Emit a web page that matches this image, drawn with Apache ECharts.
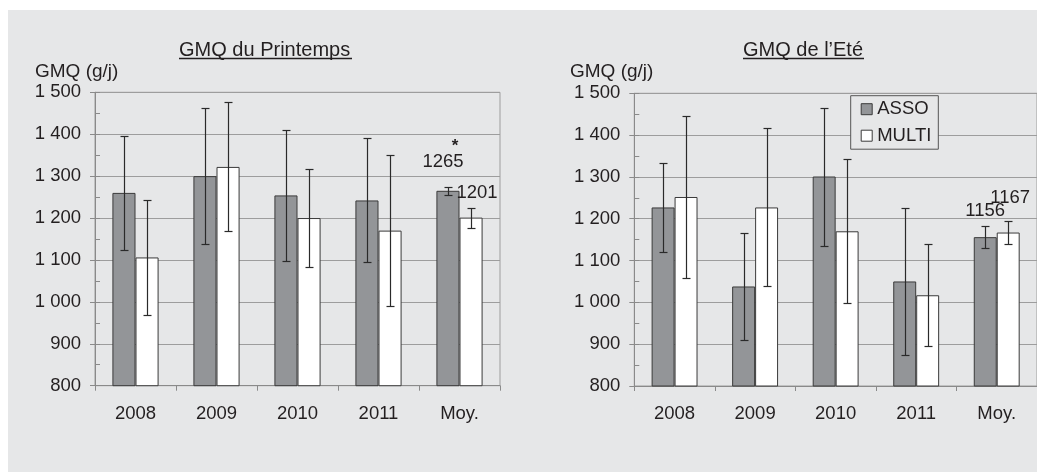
<!DOCTYPE html>
<html><head><meta charset="utf-8">
<script src="https://cdn.jsdelivr.net/npm/echarts@6/dist/echarts.min.js"></script>
<style>html,body{margin:0;padding:0;background:#fff}#c{width:1037px;height:473px}</style>
</head><body><div id="c"></div>
<script>
// ---------- data ----------
const categories = ['2008', '2009', '2010', '2011', 'Moy.'];
const seriesNames = ['ASSO', 'MULTI'];
const springAsso = [1260, 1300, 1254, 1242, 1265];
const springAssoSD = [136, 163, 156, 148, 10];
const springMulti = [1106, 1322, 1200, 1170, 1201];
const springMultiSD = [137, 154, 116, 180, 24];
const summerAsso = [1227, 1038, 1301, 1050, 1156];
const summerAssoSD = [106, 129, 165, 176, 27];
const summerMulti = [1252, 1227, 1170, 1017, 1167];
const summerMultiSD = [193, 189, 172, 122, 27];
const springMarks = ['*', ''];   // significance marker on Moy. (ASSO, MULTI)
const summerMarks = ['', ''];
const yMin = 800, yMax = 1500, yStep = 100, yMinorStep = 50;
const titles = ['GMQ du Printemps', 'GMQ de l\u2019Eté'];
const yName = 'GMQ (g/j)';
const labelledIndex = 4; // only "Moy." bars carry a value label

// ---------- style ----------
const FONT = 'Liberation Sans, Arial, sans-serif';
const TXT = '#231f20';
const BG = '#e6e7e8';
const AX = '#8a8a8a';
const GRIDC = '#9d9d9d';
const ASSO_FILL = '#939598';
const MULTI_FILL = '#ffffff';
const EDGE = '#3a3a3a';
const ERR = '#2a2a2a';
const BAR_FRAC = 0.285;

const fmtY = v => v >= 1000 ? Math.floor(v / 1000) + ' ' + String(v % 1000).padStart(3, '0') : String(v);

const chart = echarts.init(document.getElementById('c'), null, {renderer: 'canvas'});

const grids = [
  {left: 95, top: 92.3, width: 405, height: 293.4},
  {left: 634.3, top: 93.3, width: 403.5, height: 292.7}
];

function xAxisFor(gi) {
  return {
    type: 'category', gridIndex: gi, data: categories,
    axisLine: {lineStyle: {color: AX, width: 1}},
    axisTick: {show: true, length: 5, lineStyle: {color: AX}},
    axisLabel: {color: TXT, fontSize: 18.5, fontFamily: FONT, margin: 18.5}
  };
}
function yAxisMain(gi) {
  return {
    type: 'value', gridIndex: gi, min: yMin, max: yMax, interval: yStep,
    axisLine: {show: true, lineStyle: {color: AX}},
    axisTick: {show: true, length: 5, lineStyle: {color: AX}},
    axisLabel: {color: TXT, fontSize: 18.5, fontFamily: FONT, margin: 14, formatter: fmtY},
    splitLine: {show: true, lineStyle: {color: GRIDC, width: 1}}
  };
}
function yAxisMinor(gi) {
  return {
    type: 'value', gridIndex: gi, min: yMin, max: yMax, interval: yMinorStep,
    position: 'left',
    axisLine: {show: false},
    axisTick: {show: true, inside: true, length: 5, lineStyle: {color: AX}},
    axisLabel: {show: false},
    splitLine: {show: false}
  };
}

function barSeries(name, gi, values, fill, labelOffset, mark) {
  return {
    name: name, type: 'bar', xAxisIndex: gi, yAxisIndex: gi * 2,
    barWidth: (BAR_FRAC * 100) + '%', barGap: '0%',
    itemStyle: {color: fill, borderColor: EDGE, borderWidth: 1},
    data: values.map((v, i) => i === labelledIndex ? {
      value: v,
      label: {
        show: true, position: 'top', distance: 5, offset: labelOffset,
        fontFamily: FONT, color: TXT,
        formatter: p => (mark ? '{m|' + mark + '}\n' : '') + '{v|' + p.value + '}',
        rich: {
          m: {fontSize: 17, lineHeight: 10, color: TXT, fontFamily: FONT, fontWeight: 'bold', padding: [0, 0, 0, 24]},
          v: {fontSize: 18.5, lineHeight: 20, color: TXT, fontFamily: FONT}
        }
      }
    } : v),
    z: 2
  };
}

function errSeries(gi, values, sds, side) {
  return {
    type: 'custom', xAxisIndex: gi, yAxisIndex: gi * 2, z: 5, silent: true,
    data: values.map((v, i) => [i, v, sds[i]]),
    encode: {x: 0, y: 1},
    renderItem: function (params, api) {
      const ci = api.value(0), v = api.value(1), sd = api.value(2);
      const catW = api.size([1, 0])[0];
      let x = api.coord([ci, v])[0] + side * catW * BAR_FRAC / 2;
      x = Math.round(x) + 0.5;
      const yT = Math.round(api.coord([ci, v + sd])[1]) + 0.5;
      const yB = Math.round(api.coord([ci, v - sd])[1]) + 0.5;
      const c = 4;
      const st = {stroke: ERR, lineWidth: 1.2};
      return {type: 'group', children: [
        {type: 'line', shape: {x1: x, y1: yT, x2: x, y2: yB}, style: st},
        {type: 'line', shape: {x1: x - c, y1: yT, x2: x + c, y2: yT}, style: st},
        {type: 'line', shape: {x1: x - c, y1: yB, x2: x + c, y2: yB}, style: st}
      ]};
    }
  };
}

const option = {
  backgroundColor: '#ffffff',
  animation: false,
  textStyle: {fontFamily: FONT},
  graphic: [
    {type: 'rect', shape: {x: 8, y: 10, width: 1029, height: 462}, style: {fill: BG}, z: -10, silent: true},
    {type: 'line', shape: {x1: 179, y1: 58.5, x2: 352, y2: 58.5}, style: {stroke: TXT, lineWidth: 1.4}, z: 10},
    {type: 'line', shape: {x1: 743, y1: 58.5, x2: 864, y2: 58.5}, style: {stroke: TXT, lineWidth: 1.4}, z: 10}
  ],
  title: [
    {text: titles[0], left: 179, top: 39.5, padding: 0, textStyle: {fontSize: 20, fontWeight: 'normal', color: TXT, fontFamily: FONT, lineHeight: 22}},
    {text: titles[1], left: 743, top: 39.5, padding: 0, textStyle: {fontSize: 20, fontWeight: 'normal', color: TXT, fontFamily: FONT, lineHeight: 22}},
    {text: yName, left: 35, top: 61.5, padding: 0, textStyle: {fontSize: 19, fontWeight: 'normal', color: TXT, fontFamily: FONT, lineHeight: 21}},
    {text: yName, left: 570, top: 61.5, padding: 0, textStyle: {fontSize: 19, fontWeight: 'normal', color: TXT, fontFamily: FONT, lineHeight: 21}}
  ],
  legend: {
    orient: 'vertical', left: 850.7, top: 95.7,
    padding: [3.5, 7, 3.5, 10], itemGap: 6.5, itemWidth: 11, itemHeight: 11,
    backgroundColor: BG, borderColor: '#555555', borderWidth: 1,
    icon: 'rect',
    textStyle: {fontSize: 18.5, lineHeight: 20, color: TXT, fontFamily: FONT},
    data: [
      {name: seriesNames[0], itemStyle: {color: ASSO_FILL, borderColor: EDGE, borderWidth: 1}},
      {name: seriesNames[1], itemStyle: {color: MULTI_FILL, borderColor: EDGE, borderWidth: 1}}
    ]
  },
  grid: grids.map(g => Object.assign({show: true, borderColor: GRIDC, borderWidth: 1, backgroundColor: 'transparent'}, g)),
  xAxis: [xAxisFor(0), xAxisFor(1)],
  yAxis: [yAxisMain(0), yAxisMinor(0), yAxisMain(1), yAxisMinor(1)],
  series: [
    barSeries(seriesNames[0], 0, springAsso, ASSO_FILL, [-5, -14], springMarks[0]),
    barSeries(seriesNames[1], 0, springMulti, MULTI_FILL, [6, -10], springMarks[1]),
    errSeries(0, springAsso, springAssoSD, -1),
    errSeries(0, springMulti, springMultiSD, 1),
    barSeries(seriesNames[0], 1, summerAsso, ASSO_FILL, [0, -11], summerMarks[0]),
    barSeries(seriesNames[1], 1, summerMulti, MULTI_FILL, [2, -20], summerMarks[1]),
    errSeries(1, summerAsso, summerAssoSD, -1),
    errSeries(1, summerMulti, summerMultiSD, 1)
  ]
};
chart.setOption(option);
</script>
</body></html>
